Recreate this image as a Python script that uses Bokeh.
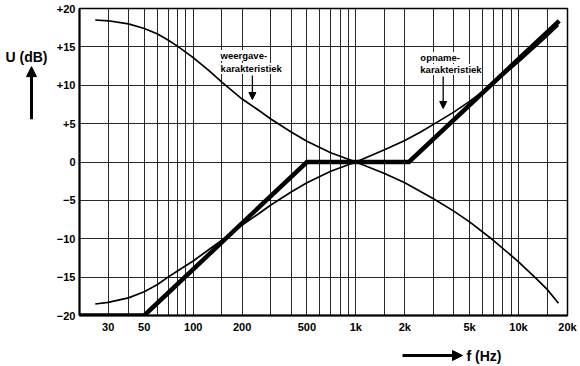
from bokeh.plotting import figure
from bokeh.models import FixedTicker, Label, Arrow, NormalHead, Range1d
from bokeh.layouts import row, column
from bokeh.core.properties import value
from bokeh.embed import file_html
from bokeh.resources import INLINE

# ---- data ----
freq_weergave = [25, 30, 40, 50, 60, 70, 80, 100, 125, 150, 200, 250, 300, 400, 500,
                 700, 1000, 1500, 2000, 3000, 4000, 5000, 7000, 10000, 13000, 15000, 17600]
db_weergave = [18.5, 18.4, 18.0, 17.4, 16.7, 15.9, 15.1, 13.6, 11.9, 10.4, 8.2, 6.8, 5.6, 3.9, 2.7,
               1.2, 0.0, -1.5, -2.7, -4.8, -6.4, -7.8, -10.2, -13.0, -15.3, -16.6, -18.4]

freq_opname = [25, 30, 40, 50, 60, 70, 80, 100, 125, 150, 200, 250, 300, 400, 500,
               700, 1000, 1500, 2000, 2500, 3000, 4000, 5000, 7000, 10000, 13000, 15000, 17600]
db_opname = [-18.5, -18.3, -17.7, -16.9, -16.0, -15.0, -14.2, -12.9, -11.4, -10.2, -8.2, -6.8, -5.6, -3.9, -2.7,
             -1.2, 0.0, 1.6, 2.8, 3.9, 4.9, 6.5, 7.9, 10.2, 13.0, 15.2, 16.4, 17.8]

freq_asymp = [20, 50, 500, 2120, 17800]
db_asymp = [-20, -20, 0, 0, 18.4]

x_ticks = [30, 50, 100, 200, 500, 1000, 2000, 5000, 10000, 20000]
x_tick_labels = ["30", "50", "100", "200", "500", "1k", "2k", "5k", "10k", "20k"]
x_grid = [30, 40, 50, 60, 70, 80, 90, 100, 150, 200, 300, 400, 500, 600, 700, 800, 900,
          1000, 1500, 2000, 3000, 4000, 5000, 6000, 7000, 8000, 9000, 10000, 15000]
y_ticks = [-20, -15, -10, -5, 0, 5, 10, 15, 20]
y_tick_labels = ["\u221220", "\u221215", "\u221210", "\u22125", "0", "+5", "+10", "+15", "+20"]
y_grid = [-15, -10, -5, 0, 5, 10, 15]

y_title = "U (dB)"
x_title = "f (Hz)"

# ---- layout sizes (pixels) ----
LEFT_W = 53
MAIN_W = 527
TOP_H = 338
BOT_H = 28

# ---- main chart ----
p = figure(width=MAIN_W, height=TOP_H, x_axis_type="log", x_range=(20, 20000), y_range=(-20, 20),
           output_backend="svg", toolbar_location=None,
           min_border_left=23, min_border_right=13, min_border_top=8, min_border_bottom=23)
p.background_fill_color = "white"
p.border_fill_color = "white"
p.outline_line_color = "black"
p.outline_line_width = 1.5

p.xaxis.ticker = FixedTicker(ticks=x_ticks)
p.xaxis.major_label_overrides = {t: l for t, l in zip(x_ticks, x_tick_labels)}
p.yaxis.ticker = FixedTicker(ticks=y_ticks)
p.yaxis.major_label_overrides = {t: l for t, l in zip(y_ticks, y_tick_labels)}
for ax in (p.xaxis[0], p.yaxis[0]):
    ax.major_tick_in = 0
    ax.major_tick_out = 0
    ax.minor_tick_in = 0
    ax.minor_tick_out = 0
    ax.major_tick_line_color = None
    ax.minor_tick_line_color = None
    ax.axis_line_color = "black"
    ax.axis_line_width = 2
    ax.major_label_text_font = "Liberation Sans"
    ax.major_label_text_font_style = "bold"
    ax.major_label_text_font_size = "11px"
    ax.major_label_text_color = "black"
p.xaxis.major_label_standoff = 5
p.yaxis.major_label_standoff = 4

p.xgrid.ticker = FixedTicker(ticks=x_grid)
p.ygrid.ticker = FixedTicker(ticks=y_grid)
for g in (p.xgrid[0], p.ygrid[0]):
    g.grid_line_color = "#111111"
    g.grid_line_width = 1
    g.grid_line_alpha = 0.9

p.line(freq_weergave, db_weergave, line_color="black", line_width=1.7)
p.line(freq_opname, db_opname, line_color="black", line_width=1.7)
p.line(freq_asymp, db_asymp, line_color="black", line_width=4.5, line_join="miter")

# annotation positions in page pixels -> data
def ref_x(px):
    return 20 * 10 ** ((px - 76) / 163.7)

def ref_y(py):
    return 20 - (py - 8) * 40 / 307

lab = dict(text_font="Liberation Sans", text_font_style="bold", text_font_size="9.5px",
           text_color="black", text_baseline="middle", text_align="left",
           background_fill_color="white")
p.add_layout(Label(x=ref_x(218), y=ref_y(55), text="weergave-", **lab))
p.add_layout(Label(x=ref_x(218), y=ref_y(68), text="karakteristiek", **lab))
p.add_layout(Label(x=ref_x(419), y=ref_y(57), text="opname-", **lab))
p.add_layout(Label(x=ref_x(419), y=ref_y(69), text="karakteristiek", **lab))

small_head = dict(size=7, fill_color="black", line_color="black")
p.add_layout(Arrow(x_start=ref_x(250), y_start=ref_y(75), x_end=ref_x(250), y_end=ref_y(99),
                   line_width=1.3, end=NormalHead(**small_head)))
p.add_layout(Arrow(x_start=ref_x(442), y_start=ref_y(76), x_end=ref_x(442), y_end=ref_y(108),
                   line_width=1.3, end=NormalHead(**small_head)))

# ---- side strips for the axis titles and arrows ----
def strip(w, h):
    s = figure(width=w, height=h, x_range=Range1d(0, w), y_range=Range1d(h, 0),
               output_backend="svg", toolbar_location=None, min_border=0,
               x_axis_location=None, y_axis_location=None)
    s.grid.visible = False
    s.outline_line_color = None
    s.background_fill_color = "white"
    s.border_fill_color = "white"
    return s

title_style = dict(text_font=value("Liberation Sans"), text_font_style="bold", text_font_size="14px",
                   text_color="black", text_baseline="middle", text_align="left")
big_head = dict(size=10, fill_color="black", line_color="black")

L = strip(LEFT_W, TOP_H)
L.text(x=[5], y=[53], text=[y_title], **title_style)
L.add_layout(Arrow(x_start=31, y_start=122, x_end=31, y_end=64, line_width=3,
                   end=NormalHead(**big_head)))

B = strip(LEFT_W + MAIN_W, BOT_H)
B.text(x=[466], y=[17], text=[x_title], **title_style)
B.add_layout(Arrow(x_start=402, y_start=17, x_end=462, y_end=17, line_width=3,
                   end=NormalHead(**big_head)))

layout = column(row(L, p), B)
open("out.html", "w").write(file_html(layout, INLINE))
